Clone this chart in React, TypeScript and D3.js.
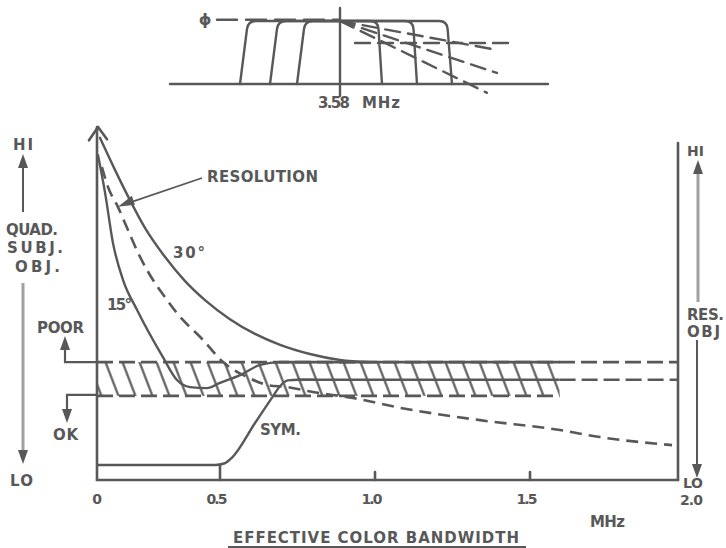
import React from "react";
import * as d3 from "d3";

const WIDTH = 726;
const HEIGHT = 548;
const INK = "#585858";
const FADED = "#a0a0a0";
const FONT = "'DejaVu Sans', 'Liberation Sans', sans-serif";

// Effective color bandwidth axis (MHz)
const bandwidthTicks = [0, 0.5, 1.0, 1.5, 2.0];
const bandwidthLabels = ["0", "0.5", "1.0", "1.5", "2.0"];

// Quadrature distortion curves, level 0 (LO) .. 100 (HI) against bandwidth (MHz)
const quad30: [number, number][] = [
  [0.012, 97.2], [0.073, 88.1], [0.134, 79.5], [0.195, 71.6], [0.276, 63.4],
  [0.358, 56.5], [0.439, 51.1], [0.532, 45.7], [0.613, 41.5], [0.694, 38.4],
  [0.79, 35.8], [0.887, 34.1], [0.984, 33.5],
];
const quad15: [number, number][] = [
  [0.004, 92.3], [0.033, 81.5], [0.065, 67.3], [0.106, 56.8], [0.163, 48.3],
  [0.268, 34.9], [0.325, 28.4], [0.378, 26.4], [0.447, 26.1], [0.5, 27.6],
  [0.565, 29.8], [0.629, 32.7], [0.694, 33.5], [0.8, 33.5],
];
// Resolution (objective), dashed
const resolution: [number, number][] = [
  [0.02, 88.9], [0.045, 83.2], [0.085, 77.6], [0.126, 71.0], [0.167, 64.5],
  [0.203, 59.7], [0.285, 51.1], [0.325, 47.4], [0.431, 39.8], [0.51, 33.5],
  [0.587, 29.3], [0.652, 27.0], [0.716, 26.4], [0.8, 25.0], [0.929, 23.3],
  [1.081, 20.5], [1.339, 17.0], [1.601, 14.2], [1.736, 12.2], [1.98, 9.9],
];
// Symmetric filter response
const symmetric: [number, number][] = [
  [0, 4.26], [0.48, 4.26], [0.513, 4.69], [0.539, 6.39], [0.613, 16.2],
  [0.668, 23.4], [0.694, 26.7], [0.719, 28.3], [0.752, 28.5], [0.8, 28.5],
];

// Acceptance band (POOR above, OK below)
const BAND_TOP = 33.5;
const BAND_MID = 28.5;
const BAND_BOTTOM = 23.9;
const BAND_END = 1.6;

// Chroma filter sketch around the 3.58 MHz subcarrier (MHz, relative amplitude)
const SUBCARRIER = 3.58;
const lowerEdgeFoot = [2.58, 2.88, 3.15];
const lowerEdgeTop = [2.66, 2.96, 3.23];
const upperEdgeTop = [4.65, 4.31, 3.96];
const upperEdgeFoot = [4.7, 4.35, 4.0];
const phaseEnds: [number, number][] = [[5.15, 0.54], [5.15, 0.175], [5.05, -0.14]];
const phaseFlat: [number, number][] = [[3.73, 0.65], [5.26, 0.65]];

export default function App() {
  const x = d3.scaleLinear().domain(bandwidthTicks).range([97, 220, 375, 530, 678]);
  const y = d3.scaleLinear().domain([0, 100]).range([480, 128]);
  const line = d3
    .line<[number, number]>()
    .x((d) => x(d[0]))
    .y((d) => y(d[1]))
    .curve(d3.curveMonotoneX);
  const straight = d3
    .line<[number, number]>()
    .x((d) => x(d[0]))
    .y((d) => y(d[1]));

  // inset scales
  const fx = d3.scaleLinear().domain([1.88, 5.66]).range([170, 548]);
  const fy = d3.scaleLinear().domain([0, 1]).range([84, 21]);
  const fline = d3
    .line<[number, number]>()
    .x((d) => fx(d[0]))
    .y((d) => fy(d[1]));

  const filterPath = (i: number) => {
    const p = d3.path();
    const r = 8;
    const y0 = fy(0);
    const yt = fy(1);
    const xlb = fx(lowerEdgeFoot[i]);
    const xlt = fx(lowerEdgeTop[i]);
    const xut = fx(upperEdgeTop[i]);
    const xub = fx(upperEdgeFoot[i]);
    const k = r / (y0 - yt);
    p.moveTo(xlb, y0);
    p.lineTo(xlt + (xlb - xlt) * k, yt + r);
    p.quadraticCurveTo(xlt, yt, xlt + r, yt);
    p.lineTo(xut - r, yt);
    p.quadraticCurveTo(xut, yt, xut + (xub - xut) * k, yt + r);
    p.lineTo(xub, y0);
    return p.toString();
  };

  const text = (
    s: string,
    tx: number,
    ty: number,
    len?: number,
    size = 15,
    anchor: "start" | "middle" | "end" = "start"
  ) => (
    <text
      key={`${s}-${tx}-${ty}`}
      x={tx}
      y={ty}
      fontSize={size}
      fontWeight="bold"
      fontFamily={FONT}
      fill={INK}
      textAnchor={anchor}
      textLength={len}
      lengthAdjust="spacing"
    >
      {s}
    </text>
  );

  const arrowHead = (tx: number, ty: number, dir: 1 | -1, color = INK) => (
    <path
      d={`M${tx},${ty} L${tx - 5},${ty + dir * 14} L${tx + 5},${ty + dir * 14} Z`}
      fill={color}
    />
  );

  const x0 = x(0);
  const bandTopY = y(BAND_TOP);
  const bandBotY = y(BAND_BOTTOM);
  const pointer = resolution[2];
  const px = x(pointer[0]);
  const py = y(pointer[1]);

  return (
    <svg width={WIDTH} height={HEIGHT} style={{ position: "absolute", left: 0, top: 0, background: "#fff" }}>
      <defs>
        <pattern
          id="hatch"
          width={17}
          height={40}
          patternUnits="userSpaceOnUse"
          patternTransform="translate(101,0) skewX(21)"
        >
          <line x1={1.5} y1={-2} x2={1.5} y2={42} stroke={INK} strokeWidth={2.3} />
        </pattern>
      </defs>

      {/* ---------- chroma filter inset ---------- */}
      <g fill="none" stroke={INK} strokeWidth={2.4} strokeLinecap="round">
        <line x1={fx(1.88)} x2={fx(5.66)} y1={fy(0)} y2={fy(0)} />
        <line x1={fx(SUBCARRIER)} x2={fx(SUBCARRIER)} y1={8} y2={96} />
        <path d={fline([[2.35, 1.02], [SUBCARRIER, 1.02]]) ?? ""} strokeDasharray="20 9" />
        {lowerEdgeFoot.map((_, i) => (
          <path key={i} d={filterPath(i)} />
        ))}
        {phaseEnds.map((end, i) => (
          <path key={i} d={fline([[SUBCARRIER, 1], end]) ?? ""} strokeDasharray="15 8" />
        ))}
        <path d={fline(phaseFlat) ?? ""} strokeDasharray="15 8" />
      </g>
      {text("ϕ", 205, 25, undefined, 16, "middle")}
      {text("3.58", 318, 108, 32)}
      {text("MHz", 362, 108, 38)}

      {/* ---------- acceptance band ---------- */}
      <rect
        x={x0}
        y={bandTopY}
        width={x(BAND_END) - x0}
        height={bandBotY - bandTopY}
        fill="url(#hatch)"
      />
      <g fill="none" stroke={INK} strokeWidth={2.6}>
        <path d={straight([[0, BAND_TOP], [2.0, BAND_TOP]]) ?? ""} strokeDasharray="16 6" />
        <path d={straight([[0.69, BAND_TOP], [BAND_END, BAND_TOP]]) ?? ""} />
        <path d={straight([[0.75, BAND_MID], [BAND_END, BAND_MID]]) ?? ""} />
        <path d={straight([[BAND_END, BAND_MID], [2.0, BAND_MID]]) ?? ""} strokeDasharray="16 6" />
        <path d={straight([[0, BAND_BOTTOM], [BAND_END, BAND_BOTTOM]]) ?? ""} strokeDasharray="16 6" />
      </g>

      {/* ---------- curves ---------- */}
      <g fill="none" stroke={INK} strokeWidth={2.4} strokeLinecap="round">
        <path d={line(quad30) ?? ""} />
        <path d={line(quad15) ?? ""} />
        <path d={line(symmetric) ?? ""} />
        <path d={line(resolution) ?? ""} strokeDasharray="12 7" strokeLinecap="butt" strokeWidth={2.6} />
      </g>

      {/* resolution pointer */}
      <line x1={202} y1={178} x2={px + 8} y2={py - 3} stroke={INK} strokeWidth={1.8} />
      <path d={`M${px},${py} L${px + 14},${py - 11} L${px + 17},${py - 2} Z`} fill={INK} />
      {text("RESOLUTION", 207, 182, 111)}
      {text("30°", 173, 258, 32)}
      {text("15°", 107, 310, 25)}
      {text("SYM.", 260, 435, 41)}

      {/* ---------- axes ---------- */}
      <g fill="none" stroke={INK} strokeWidth={2.6} strokeLinecap="round">
        <line x1={x0} x2={x0} y1={y(100.3)} y2={y(0)} />
        <path d={`M${x0 - 8},${y(96.5)} L${x0 + 1},${y(100.3)} L${x0 + 10},${y(96.8)}`} strokeLinejoin="round" />
        <line x1={x0} x2={x(2.0)} y1={y(0)} y2={y(0)} />
        <line x1={x(2.0)} x2={x(2.0)} y1={143} y2={y(0)} />
        {bandwidthTicks.slice(1, 4).map((t) => (
          <line key={t} x1={x(t)} x2={x(t)} y1={y(0)} y2={t === 0.5 ? y(symmetric[0][1]) : y(0) - 8} />
        ))}
      </g>
      {bandwidthTicks.map((t, i) =>
        i === bandwidthTicks.length - 1
          ? text(bandwidthLabels[i], x(t) + 2, 505, 23, 14)
          : text(bandwidthLabels[i], x(t) - (i === 0 ? 0 : 3), 504, i === 0 ? undefined : 21, 14, "middle")
      )}
      {text("MHz", 590, 527, 35)}
      {text("EFFECTIVE COLOR BANDWIDTH", 233, 543, 286)}
      <line x1={228} x2={526} y1={547} y2={547} stroke={INK} strokeWidth={1.8} />

      {/* POOR / OK markers */}
      <g fill="none" stroke={INK} strokeWidth={2.2}>
        <path d={`M${x0},${bandTopY} H65 V348`} />
        <path d={`M${x0},${bandBotY - 1} H67 V410`} />
      </g>
      {arrowHead(65, 336, 1)}
      {arrowHead(67, 423, -1)}
      {text("POOR", 37, 333, 47)}
      {text("OK", 53, 440, 25)}

      {/* left scale: quadrature distortion */}
      {text("HI", 13, 150, 20)}
      <line x1={23} x2={23} y1={212} y2={164} stroke={INK} strokeWidth={2} />
      {arrowHead(23, 154, 1)}
      {text("QUAD.", 6, 235, 52)}
      {text("SUBJ.", 7, 253, 56)}
      {text("OBJ.", 15, 272, 45)}
      <line x1={23} x2={23} y1={283} y2={452} stroke={FADED} strokeWidth={3} />
      {arrowHead(23, 464, -1)}
      {text("LO", 10, 486, 23)}

      {/* right scale: resolution */}
      {text("HI", 687, 156, undefined, 14)}
      <line x1={698} x2={698} y1={302} y2={170} stroke={FADED} strokeWidth={3} />
      {arrowHead(698, 160, 1)}
      {text("RES.", 687, 320, 37)}
      {text("OBJ", 687, 337, 33)}
      <line x1={697} x2={697} y1={340} y2={466} stroke={INK} strokeWidth={2} />
      {arrowHead(697, 478, -1)}
      {text("LO", 683, 488, 20, 14)}
    </svg>
  );
}
